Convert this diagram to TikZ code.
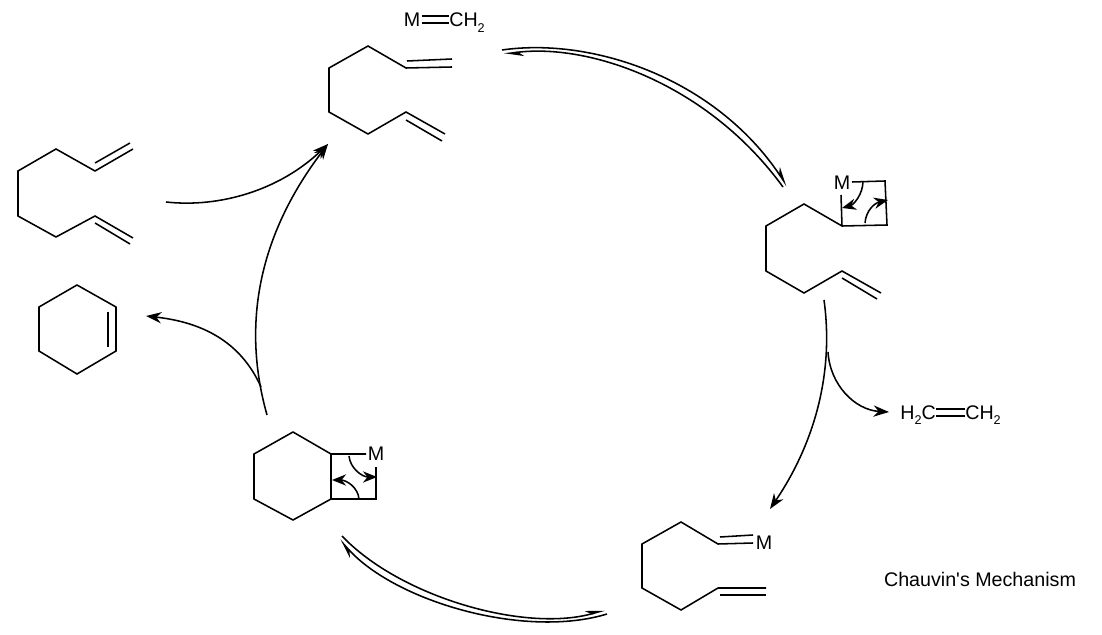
\documentclass[tikz,border=0pt]{standalone}
\usepackage{fontspec}
\setmainfont{Liberation Sans}
\usetikzlibrary{arrows.meta}
\newcommand{\subtwo}{\raisebox{-0.3em}{\fontsize{9}{9}\selectfont 2}}
\tikzset{
  bond/.style={line width=1.1pt,line join=miter},
  rxn/.style={line width=1.1pt,-{Stealth[length=11pt,width=8pt]}},
  push/.style={line width=1.1pt,-{Stealth[length=10pt,width=8pt]}},
  eqarrow/.style={line width=1.1pt,-{Stealth[harpoon,length=12pt,width=6.5pt]}},
  lab/.style={font=\fontsize{14}{16}\selectfont,inner sep=0pt}
}
\begin{document}
\begin{tikzpicture}[x=0.025cm,y=-0.025cm]
        \useasboundingbox (0,0) rectangle (1102,635);
        % top diene and carbene
        \draw[bond] (452,67) -- (406,68) -- (368,46) -- (329,68) -- (329,112) -- (368,134) -- (406,112) -- (445,134);
        \draw[bond] (407,61) -- (452,59);
        \draw[bond] (406,120) -- (442,141);
        \node[lab,anchor=base] (mtop) at (412,27) {M};
        \node[lab,anchor=base west] (chtop) at (449,27) {CH\subtwo};
        \draw[bond] ([yshift=2.7pt,xshift=1pt]mtop.base east) -- ([yshift=2.7pt]chtop.base west);
        \draw[bond] ([yshift=7.7pt,xshift=1pt]mtop.base east) -- ([yshift=7.7pt]chtop.base west);
        % left diene
        \draw[bond] (133,149) -- (95,171) -- (56,149) -- (18,171) -- (18,216) -- (56,237) -- (95,216) -- (133,238);
        \draw[bond] (95,163) -- (130,143);
        \draw[bond] (95,223) -- (130,244);
        % cyclohexene
        \draw[bond] (77,285) -- (116,307) -- (116,351) -- (77,374) -- (39,351) -- (39,307) -- cycle;
        \draw[bond] (108,312) -- (108,347);
        % right metallacycle
        \draw[bond] (881,293) -- (842,271) -- (804,293) -- (766,271) -- (766,226) -- (804,204) -- (842,226) -- (887,225) -- (885,181) -- (852,182);
        \draw[bond] (842,278) -- (877,299);
        \draw[bond] (842,226) -- (841,195);
        \node[lab] (mright) at (842,183) {M};
        \draw[push] (863,181) .. controls (863,195) and (853,205) .. (842,208);
        \draw[push] (865,223) .. controls (866,210) and (875,203) .. (888,200);
        % bottom right carbene
        \draw[bond] (753,543) -- (718,544) -- (681,522) -- (642,544) -- (642,588) -- (681,610) -- (718,588) -- (766,588);
        \draw[bond] (720,537) -- (753,535);
        \draw[bond] (720,595) -- (766,595);
        \node[lab] (mlow) at (764,543) {M};
        % left metallacycle
        \draw[bond] (366,454) -- (331,454) -- (293,432) -- (254,454) -- (254,499) -- (293,520) -- (331,499) -- (331,454);
        \draw[bond] (331,499) -- (376,499) -- (376,467);
        \node[lab] (mleft) at (376,454) {M};
        \draw[push] (349,456) .. controls (350,468) and (362,477) .. (377,477);
        \draw[push] (359,499) .. controls (358,487) and (346,480) .. (332,480);
        % ethylene
        \node[lab,anchor=base west] (hch) at (900,419) {H\subtwo C};
        \node[lab,anchor=base west] (chch) at (965,419) {CH\subtwo};
        \draw[bond] ([yshift=2.2pt]hch.base east) -- ([yshift=2.2pt]chch.base west);
        \draw[bond] ([yshift=7.2pt]hch.base east) -- ([yshift=7.2pt]chch.base west);
        \node[lab] (title) at (980,579) {Chauvin\textquotesingle s Mechanism};
        % arrow ends
        \coordinate (topa) at (502,50);
        \coordinate (topb) at (787,186);
        \coordinate (topc) at (783,187);
        \coordinate (topd) at (504,54);
        \coordinate (lowa) at (605,610);
        \coordinate (lowb) at (342,536);
        \coordinate (lowc) at (607,614);
        \coordinate (lowd) at (340,540);
        \coordinate (feed) at (166,202);
        \coordinate (feedtip) at (328,144);
        \coordinate (ringa) at (267,415);
        \coordinate (ringb) at (261,387);
        \coordinate (ringtip) at (146,316);
        \coordinate (righta) at (824,300);
        \coordinate (rightb) at (828,352);
        \coordinate (righttip) at (770,509);
        \coordinate (ethtip) at (889,412);
        % cycle arrows
        \draw[eqarrow] (topa) .. controls (592,37) and (715,78) .. (topb);
        \draw[eqarrow] (topc) .. controls (708,84) and (590,43) .. (topd);
        \draw[eqarrow] (lowb) .. controls (400,597) and (525,633) .. (lowa);
        \draw[eqarrow] (lowc) .. controls (525,639) and (396,602) .. (lowd);
        \draw[rxn] (feed) .. controls (220,208) and (280,190) .. (feedtip);
        \draw[rxn] (ringa) .. controls (243,330) and (255,240) .. (feedtip);
        \draw[rxn] (ringb) .. controls (240,340) and (200,322) .. (ringtip);
        \draw[rxn] (righta) .. controls (835,380) and (810,450) .. (righttip);
        \draw[rxn] (rightb) .. controls (830,385) and (855,410) .. (ethtip);
    \end{tikzpicture}
\end{document}
